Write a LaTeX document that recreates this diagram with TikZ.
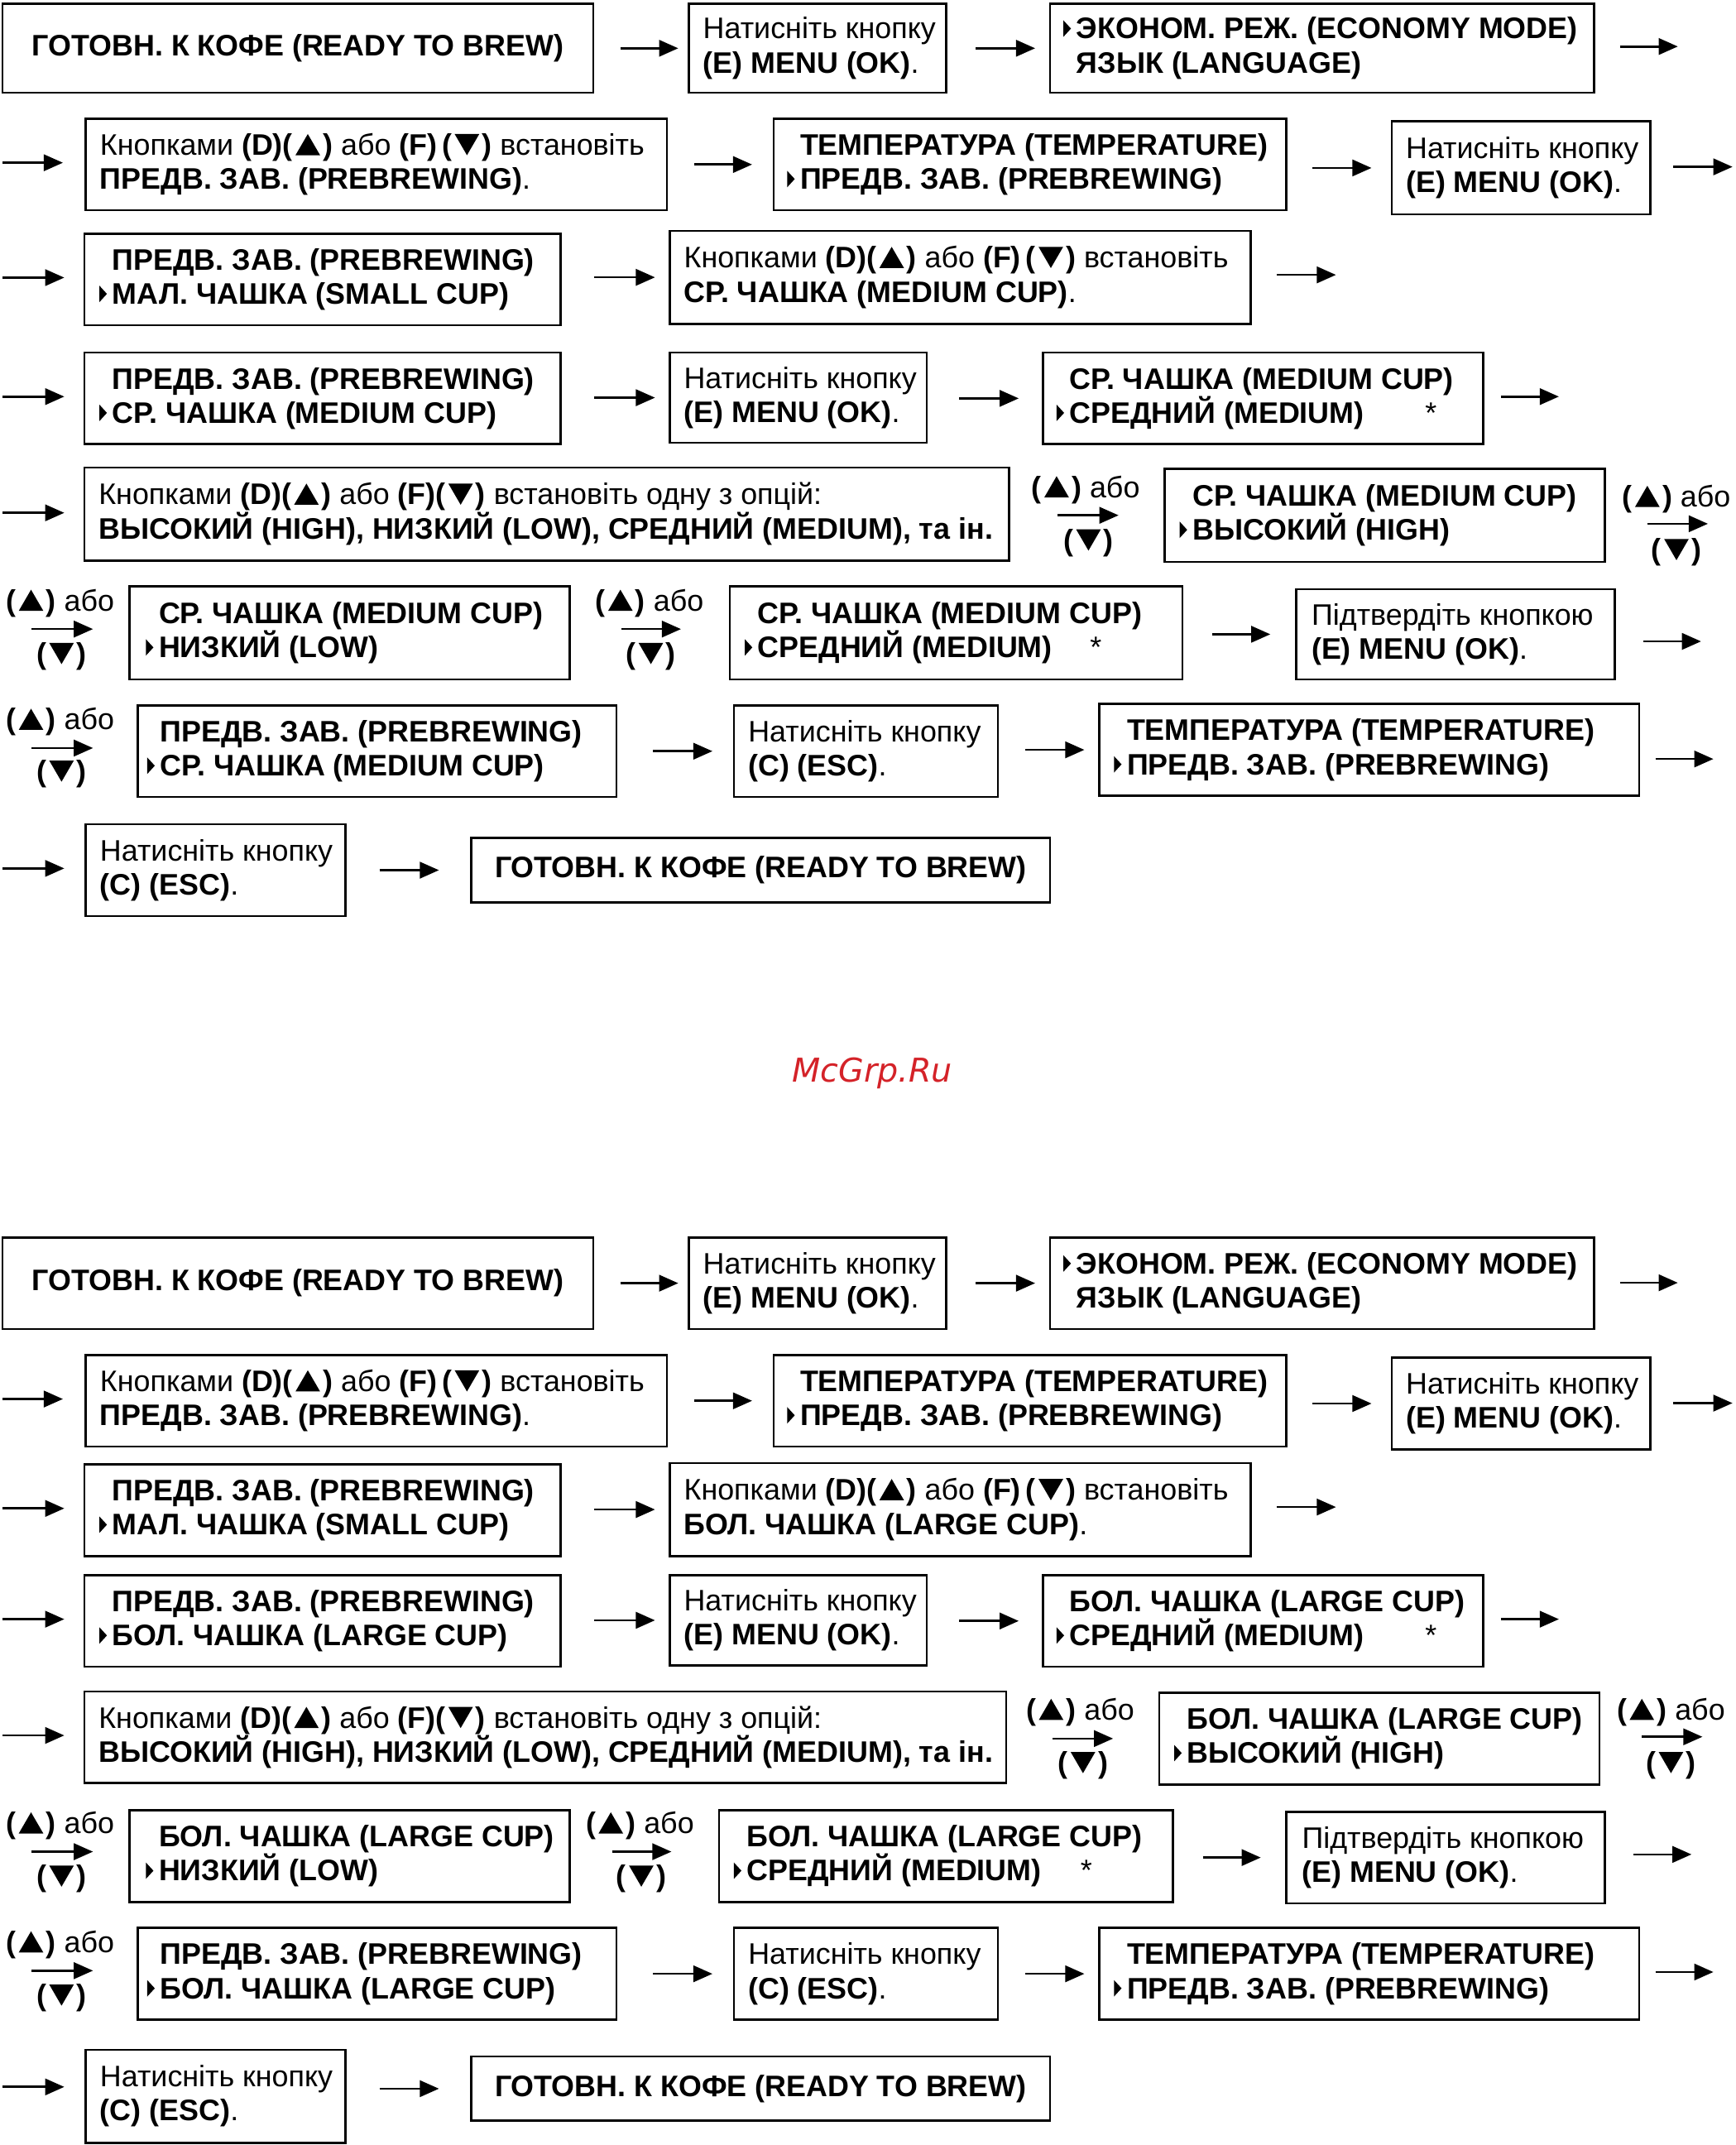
\documentclass[tikz,border=0pt]{standalone}
\usepackage{fontspec}
\setmainfont{Liberation Sans}
\newfontfamily\wmfont{DejaVu Sans}
\usetikzlibrary{arrows.meta, positioning}
\definecolor{wmred}{RGB}{212,34,40}
\newcommand{\selmark}{\llap{\tikz[baseline=0pt]\fill (0pt,1.5pt) -- (0pt,13.5pt) -- (5.5pt,7.5pt) -- cycle;\hspace{4pt}}}
\newcommand{\tup}{\kern2pt\tikz[baseline=0pt]\fill (0pt,0pt) -- (9pt,15.5pt) -- (18pt,0pt) -- cycle;\kern2pt}
\newcommand{\tdn}{\kern2pt\tikz[baseline=0pt]\fill (0pt,15.5pt) -- (18pt,15.5pt) -- (9pt,0pt) -- cycle;\kern2pt}

\begin{document}
\begin{tikzpicture}[x=1pt, y=-1pt, font=\fontsize{21.7}{25}\selectfont,
    box/.style={draw, line width=1.6pt, anchor=north west, inner sep=0pt},
    txt/.style={anchor=west, align=left, inner sep=0pt},
    flow/.style={line width=1.6pt, -{Triangle[length=14pt, width=12pt]}}]

    \useasboundingbox (0,0) rectangle (1269,1568.5);

    % ---------------- Medium cup ----------------
    % Row 1
    \node[box, minimum width=432, minimum height=65] (A) at (1,2) {};
    \node (At) at (A.center) {\textbf{ГОТОВН. К КОФЕ (READY TO BREW)}};
    \node[box, minimum width=188, minimum height=65] (B) at (503,2) {};
    \node[txt] (Bt) at ([xshift=11pt]B.west) {Натисніть кнопку\\\textbf{(E) MENU (OK)}.};
    \node[box, minimum width=398, minimum height=65] (C) at (767,2) {};
    \node[txt] (Ct) at ([xshift=20pt]C.west) {\selmark\textbf{ЭКОНОМ. РЕЖ. (ECONOMY MODE)}\\\textbf{ЯЗЫК (LANGUAGE)}};
    \coordinate (e1) at (1227,34);
    \draw[flow, shorten <=19pt, shorten >=7pt] (A.east |- B.west) -- (B.west);
    \draw[flow, shorten <=21pt, shorten >=10pt] (B.east |- C.west) -- (C.west);
    \draw[flow, shorten <=18pt] (C.east |- e1) -- (e1);

    % Row 2
    \node[box, minimum width=425, minimum height=67] (D) at (62,86) {};
    \node[txt] (Dt) at ([xshift=11pt]D.west) {Кнопками \textbf{(D)(\tup)} або \textbf{(F)\,(\tdn)} встановіть\\\textbf{ПРЕДВ. ЗАВ. (PREBREWING)}.};
    \node[box, minimum width=375, minimum height=67] (E) at (565,86) {};
    \node[txt] (Et) at ([xshift=20pt]E.west) {\textbf{ТЕМПЕРАТУРА (TEMPERATURE)}\\\selmark\textbf{ПРЕДВ. ЗАВ. (PREBREWING)}};
    \node[box, minimum width=189, minimum height=68] (F) at (1017,88) {};
    \node[txt] (Ft) at ([xshift=11pt]F.west) {Натисніть кнопку\\\textbf{(E) MENU (OK)}.};
    \coordinate (s2) at (2,119);
    \coordinate (e2) at (1267,122);
    \draw[flow, shorten >=16pt] (s2) -- (s2 -| D.west);
    \draw[flow, shorten <=19pt, shorten >=15pt] (D.east |- E.west) -- (E.west);
    \draw[flow, shorten <=18pt, shorten >=14pt] (E.east |- F.west) -- (F.west);
    \draw[flow, shorten <=16pt] (F.east |- e2) -- (e2);

    % Row 3
    \node[box, minimum width=348, minimum height=67] (G) at (61,170) {};
    \node[txt] (Gt) at ([xshift=21pt]G.west) {\textbf{ПРЕДВ. ЗАВ. (PREBREWING)}\\\selmark\textbf{МАЛ. ЧАШКА (SMALL CUP)}};
    \node[box, minimum width=425, minimum height=68] (H) at (489,168) {};
    \node[txt] (Ht) at ([xshift=11pt]H.west) {Кнопками \textbf{(D)(\tup)} або \textbf{(F)\,(\tdn)} встановіть\\\textbf{СР. ЧАШКА (MEDIUM CUP)}.};
    \coordinate (s3) at (2,203);
    \coordinate (e3) at (977,201);
    \draw[flow, shorten >=14pt] (s3) -- (s3 -| G.west);
    \draw[flow, shorten <=24pt, shorten >=10pt] (G.east |- H.west) -- (H.west);
    \draw[flow, shorten <=18pt] (H.east |- e3) -- (e3);

    % Row 4
    \node[box, minimum width=348, minimum height=67] (I) at (61,257) {};
    \node[txt] (It) at ([xshift=21pt]I.west) {\textbf{ПРЕДВ. ЗАВ. (PREBREWING)}\\\selmark\textbf{СР. ЧАШКА (MEDIUM CUP)}};
    \node[box, minimum width=188, minimum height=66] (J) at (489,257) {};
    \node[txt] (Jt) at ([xshift=11pt]J.west) {Натисніть кнопку\\\textbf{(E) MENU (OK)}.};
    \node[box, minimum width=322, minimum height=67] (K) at (762,257) {};
    \node[txt] (Kt) at ([xshift=20pt]K.west) {\textbf{СР. ЧАШКА (MEDIUM CUP)}\\\selmark\makebox[260pt][l]{\textbf{СРЕДНИЙ (MEDIUM)}}*};
    \coordinate (s4) at (2,290);
    \coordinate (e4) at (1140,290);
    \draw[flow, shorten >=14pt] (s4) -- (s4 -| I.west);
    \draw[flow, shorten <=24pt, shorten >=10pt] (I.east |- J.west) -- (J.west);
    \draw[flow, shorten <=23pt, shorten >=17pt] (J.east |- K.west) -- (K.west);
    \draw[flow, shorten <=12pt] (K.east |- e4) -- (e4);

    % Row 5
    \node[box, minimum width=676, minimum height=68] (L) at (61,341) {};
    \node[txt] (Lt) at ([xshift=11pt]L.west) {Кнопками \textbf{(D)(\tup)} або \textbf{(F)(\tdn)} встановіть одну з опцій:\\\textbf{ВЫСОКИЙ (HIGH), НИЗКИЙ (LOW), СРЕДНИЙ (MEDIUM), та ін.}};
    \node[box, minimum width=322, minimum height=68] (M) at (851,342) {};
    \node[txt] (Mt) at ([xshift=21pt]M.west) {\textbf{СР. ЧАШКА (MEDIUM CUP)}\\\selmark\textbf{ВЫСОКИЙ (HIGH)}};
    \node (u5a) at (794,358) {\textbf{(\tup)} або};
    \node (d5a) at (796,397) {\textbf{(\tdn)}};
    \node (u5b) at (1226,365) {\textbf{(\tup)} або};
    \node (d5b) at (1226,404) {\textbf{(\tdn)}};
    \coordinate (s5) at (2,375);
    \coordinate (e5) at (1249,383);
    \draw[flow, shorten >=14pt] (s5) -- (s5 -| L.west);
    \draw[flow, shorten <=35pt, shorten >=33pt] (L.east |- M.west) -- (M.west);
    \draw[flow, shorten <=30pt] (M.east |- e5) -- (e5);

    % Row 6
    \node[box, minimum width=322, minimum height=68] (N) at (94,428) {};
    \node[txt] (Nt) at ([xshift=22pt]N.west) {\textbf{СР. ЧАШКА (MEDIUM CUP)}\\\selmark\textbf{НИЗКИЙ (LOW)}};
    \node[box, minimum width=331, minimum height=68] (O) at (533,428) {};
    \node[txt] (Ot) at ([xshift=21pt]O.west) {\textbf{СР. ЧАШКА (MEDIUM CUP)}\\\selmark\makebox[243pt][l]{\textbf{СРЕДНИЙ (MEDIUM)}}*};
    \node[box, minimum width=233, minimum height=66] (P) at (947,430) {};
    \node[txt] (Pt) at ([xshift=12pt]P.west) {Підтвердіть кнопкою\\\textbf{(E) MENU (OK)}.};
    \node (u6a) at (44,441) {\textbf{(\tup)} або};
    \node (d6a) at (45,480) {\textbf{(\tdn)}};
    \node (u6b) at (475,441) {\textbf{(\tup)} або};
    \node (d6b) at (476,480) {\textbf{(\tdn)}};
    \coordinate (s6) at (23,460);
    \coordinate (e6) at (1244,469);
    \draw[flow, shorten >=26pt] (s6) -- (s6 -| N.west);
    \draw[flow, shorten <=37pt, shorten >=35pt] (N.east |- s6) -- (s6 -| O.west);
    \draw[flow, shorten <=21pt, shorten >=18pt] (O.east |- P.west) -- (P.west);
    \draw[flow, shorten <=20pt] (P.east |- e6) -- (e6);

    % Row 7
    \node[box, minimum width=350, minimum height=67] (Q) at (100,515) {};
    \node[txt] (Qt) at ([xshift=17pt]Q.west) {\textbf{ПРЕДВ. ЗАВ. (PREBREWING)}\\\selmark\textbf{СР. ЧАШКА (MEDIUM CUP)}};
    \node[box, minimum width=193, minimum height=67] (R) at (536,515) {};
    \node[txt] (Rt) at ([xshift=11pt]R.west) {Натисніть кнопку\\\textbf{(C) (ESC)}.};
    \node[box, minimum width=395, minimum height=67] (S) at (803,514) {};
    \node[txt] (St) at ([xshift=21pt]S.west) {\textbf{ТЕМПЕРАТУРА (TEMPERATURE)}\\\selmark\textbf{ПРЕДВ. ЗАВ. (PREBREWING)}};
    \node (u7a) at (44,528) {\textbf{(\tup)} або};
    \node (d7a) at (45,566) {\textbf{(\tdn)}};
    \coordinate (s7) at (23,547);
    \coordinate (e7) at (1253,555);
    \draw[flow, shorten >=32pt] (s7) -- (s7 -| Q.west);
    \draw[flow, shorten <=26pt, shorten >=15pt] (Q.east |- R.west) -- (R.west);
    \draw[flow, shorten <=19pt, shorten >=10pt] (R.east |- S.west) -- (S.west);
    \draw[flow, shorten <=11pt] (S.east |- e7) -- (e7);

    % Row 8
    \node[box, minimum width=190, minimum height=67] (T) at (62,602) {};
    \node[txt] (Tt) at ([xshift=11pt]T.west) {Натисніть кнопку\\\textbf{(C) (ESC)}.};
    \node[box, minimum width=423, minimum height=47] (U) at (344,612) {};
    \node (Ut) at (U.center) {\textbf{ГОТОВН. К КОФЕ (READY TO BREW)}};
    \coordinate (s8) at (2,635);
    \draw[flow, shorten >=15pt] (s8) -- (s8 -| T.west);
    \draw[flow, shorten <=24pt, shorten >=23pt] (T.east |- U.west) -- (U.west);

    % Watermark
    \node[text=wmred, font=\wmfont\itshape\fontsize{24}{28}\selectfont] (wm) at (638,785) {McGrp.Ru};

    % ---------------- Large cup ----------------
    % Row 1
    \node[box, minimum width=432, minimum height=67] (A2) at (1,904) {};
    \node (A2t) at (A2.center) {\textbf{ГОТОВН. К КОФЕ (READY TO BREW)}};
    \node[box, minimum width=188, minimum height=67] (B2) at (503,904) {};
    \node[txt] (B2t) at ([xshift=11pt]B2.west) {Натисніть кнопку\\\textbf{(E) MENU (OK)}.};
    \node[box, minimum width=398, minimum height=67] (C2) at (767,904) {};
    \node[txt] (C2t) at ([xshift=20pt]C2.west) {\selmark\textbf{ЭКОНОМ. РЕЖ. (ECONOMY MODE)}\\\textbf{ЯЗЫК (LANGUAGE)}};
    \coordinate (e21) at (1227,938);
    \draw[flow, shorten <=19pt, shorten >=7pt] (A2.east |- B2.west) -- (B2.west);
    \draw[flow, shorten <=21pt, shorten >=10pt] (B2.east |- C2.west) -- (C2.west);
    \draw[flow, shorten <=18pt] (C2.east |- e21) -- (e21);

    % Row 2
    \node[box, minimum width=425, minimum height=67] (D2) at (62,990) {};
    \node[txt] (D2t) at ([xshift=11pt]D2.west) {Кнопками \textbf{(D)(\tup)} або \textbf{(F)\,(\tdn)} встановіть\\\textbf{ПРЕДВ. ЗАВ. (PREBREWING)}.};
    \node[box, minimum width=375, minimum height=67] (E2) at (565,990) {};
    \node[txt] (E2t) at ([xshift=20pt]E2.west) {\textbf{ТЕМПЕРАТУРА (TEMPERATURE)}\\\selmark\textbf{ПРЕДВ. ЗАВ. (PREBREWING)}};
    \node[box, minimum width=189, minimum height=67] (F2) at (1017,992) {};
    \node[txt] (F2t) at ([xshift=11pt]F2.west) {Натисніть кнопку\\\textbf{(E) MENU (OK)}.};
    \coordinate (s22) at (2,1023);
    \coordinate (e22) at (1267,1026);
    \draw[flow, shorten >=16pt] (s22) -- (s22 -| D2.west);
    \draw[flow, shorten <=19pt, shorten >=15pt] (D2.east |- E2.west) -- (E2.west);
    \draw[flow, shorten <=18pt, shorten >=14pt] (E2.east |- F2.west) -- (F2.west);
    \draw[flow, shorten <=16pt] (F2.east |- e22) -- (e22);

    % Row 3
    \node[box, minimum width=348, minimum height=67] (G2) at (61,1070) {};
    \node[txt] (G2t) at ([xshift=21pt]G2.west) {\textbf{ПРЕДВ. ЗАВ. (PREBREWING)}\\\selmark\textbf{МАЛ. ЧАШКА (SMALL CUP)}};
    \node[box, minimum width=425, minimum height=68] (H2) at (489,1069) {};
    \node[txt] (H2t) at ([xshift=11pt]H2.west) {Кнопками \textbf{(D)(\tup)} або \textbf{(F)\,(\tdn)} встановіть\\\textbf{БОЛ. ЧАШКА (LARGE CUP)}.};
    \coordinate (s23) at (2,1103);
    \coordinate (e23) at (977,1102);
    \draw[flow, shorten >=14pt] (s23) -- (s23 -| G2.west);
    \draw[flow, shorten <=24pt, shorten >=10pt] (G2.east |- H2.west) -- (H2.west);
    \draw[flow, shorten <=18pt] (H2.east |- e23) -- (e23);

    % Row 4
    \node[box, minimum width=348, minimum height=67] (I2) at (61,1151) {};
    \node[txt] (I2t) at ([xshift=21pt]I2.west) {\textbf{ПРЕДВ. ЗАВ. (PREBREWING)}\\\selmark\textbf{БОЛ. ЧАШКА (LARGE CUP)}};
    \node[box, minimum width=188, minimum height=66] (J2) at (489,1151) {};
    \node[txt] (J2t) at ([xshift=11pt]J2.west) {Натисніть кнопку\\\textbf{(E) MENU (OK)}.};
    \node[box, minimum width=322, minimum height=67] (K2) at (762,1151) {};
    \node[txt] (K2t) at ([xshift=20pt]K2.west) {\textbf{БОЛ. ЧАШКА (LARGE CUP)}\\\selmark\makebox[260pt][l]{\textbf{СРЕДНИЙ (MEDIUM)}}*};
    \coordinate (s24) at (2,1184);
    \coordinate (e24) at (1140,1184);
    \draw[flow, shorten >=14pt] (s24) -- (s24 -| I2.west);
    \draw[flow, shorten <=24pt, shorten >=10pt] (I2.east |- J2.west) -- (J2.west);
    \draw[flow, shorten <=23pt, shorten >=17pt] (J2.east |- K2.west) -- (K2.west);
    \draw[flow, shorten <=12pt] (K2.east |- e24) -- (e24);

    % Row 5
    \node[box, minimum width=674, minimum height=67] (L2) at (61,1236) {};
    \node[txt] (L2t) at ([xshift=11pt]L2.west) {Кнопками \textbf{(D)(\tup)} або \textbf{(F)(\tdn)} встановіть одну з опцій:\\\textbf{ВЫСОКИЙ (HIGH), НИЗКИЙ (LOW), СРЕДНИЙ (MEDIUM), та ін.}};
    \node[box, minimum width=322, minimum height=67] (M2) at (847,1237) {};
    \node[txt] (M2t) at ([xshift=21pt]M2.west) {\textbf{БОЛ. ЧАШКА (LARGE CUP)}\\\selmark\textbf{ВЫСОКИЙ (HIGH)}};
    \node (u25a) at (790,1252) {\textbf{(\tup)} або};
    \node (d25a) at (792,1291) {\textbf{(\tdn)}};
    \node (u25b) at (1222,1252) {\textbf{(\tup)} або};
    \node (d25b) at (1222,1291) {\textbf{(\tdn)}};
    \coordinate (s25) at (2,1269);
    \coordinate (e25) at (1245,1270);
    \draw[flow, shorten >=14pt] (s25) -- (s25 -| L2.west);
    \draw[flow, shorten <=33pt, shorten >=33pt] (L2.east |- M2.west) -- (M2.west);
    \draw[flow, shorten <=30pt] (M2.east |- e25) -- (e25);

    % Row 6
    \node[box, minimum width=322, minimum height=67] (N2) at (94,1323) {};
    \node[txt] (N2t) at ([xshift=22pt]N2.west) {\textbf{БОЛ. ЧАШКА (LARGE CUP)}\\\selmark\textbf{НИЗКИЙ (LOW)}};
    \node[box, minimum width=332, minimum height=67] (O2) at (525,1323) {};
    \node[txt] (O2t) at ([xshift=21pt]O2.west) {\textbf{БОЛ. ЧАШКА (LARGE CUP)}\\\selmark\makebox[244pt][l]{\textbf{СРЕДНИЙ (MEDIUM)}}*};
    \node[box, minimum width=233, minimum height=67] (P2) at (940,1324) {};
    \node[txt] (P2t) at ([xshift=12pt]P2.west) {Підтвердіть кнопкою\\\textbf{(E) MENU (OK)}.};
    \node (u26a) at (44,1335) {\textbf{(\tup)} або};
    \node (d26a) at (45,1374) {\textbf{(\tdn)}};
    \node (u26b) at (468,1335) {\textbf{(\tup)} або};
    \node (d26b) at (469,1374) {\textbf{(\tdn)}};
    \coordinate (s26) at (23,1354);
    \coordinate (e26) at (1237,1356);
    \draw[flow, shorten >=26pt] (s26) -- (s26 -| N2.west);
    \draw[flow, shorten <=30pt, shorten >=34pt] (N2.east |- s26) -- (s26 -| O2.west);
    \draw[flow, shorten <=21pt, shorten >=18pt] (O2.east |- P2.west) -- (P2.west);
    \draw[flow, shorten <=20pt] (P2.east |- e26) -- (e26);

    % Row 7
    \node[box, minimum width=350, minimum height=67] (Q2) at (100,1409) {};
    \node[txt] (Q2t) at ([xshift=17pt]Q2.west) {\textbf{ПРЕДВ. ЗАВ. (PREBREWING)}\\\selmark\textbf{БОЛ. ЧАШКА (LARGE CUP)}};
    \node[box, minimum width=193, minimum height=67] (R2) at (536,1409) {};
    \node[txt] (R2t) at ([xshift=11pt]R2.west) {Натисніть кнопку\\\textbf{(C) (ESC)}.};
    \node[box, minimum width=395, minimum height=67] (S2) at (803,1409) {};
    \node[txt] (S2t) at ([xshift=21pt]S2.west) {\textbf{ТЕМПЕРАТУРА (TEMPERATURE)}\\\selmark\textbf{ПРЕДВ. ЗАВ. (PREBREWING)}};
    \node (u27a) at (44,1422) {\textbf{(\tup)} або};
    \node (d27a) at (45,1461) {\textbf{(\tdn)}};
    \coordinate (s27) at (23,1441);
    \coordinate (e27) at (1253,1442);
    \draw[flow, shorten >=32pt] (s27) -- (s27 -| Q2.west);
    \draw[flow, shorten <=26pt, shorten >=15pt] (Q2.east |- R2.west) -- (R2.west);
    \draw[flow, shorten <=19pt, shorten >=10pt] (R2.east |- S2.west) -- (S2.west);
    \draw[flow, shorten <=11pt] (S2.east |- e27) -- (e27);

    % Row 8
    \node[box, minimum width=190, minimum height=68] (T2) at (62,1498) {};
    \node[txt] (T2t) at ([xshift=11pt]T2.west) {Натисніть кнопку\\\textbf{(C) (ESC)}.};
    \node[box, minimum width=423, minimum height=47] (U2) at (344,1503) {};
    \node (U2t) at (U2.center) {\textbf{ГОТОВН. К КОФЕ (READY TO BREW)}};
    \coordinate (s28) at (2,1526);
    \draw[flow, shorten >=15pt] (s28) -- (s28 -| T2.west);
    \draw[flow, shorten <=24pt, shorten >=23pt] (T2.east |- U2.west) -- (U2.west);

\end{tikzpicture}
\end{document}
